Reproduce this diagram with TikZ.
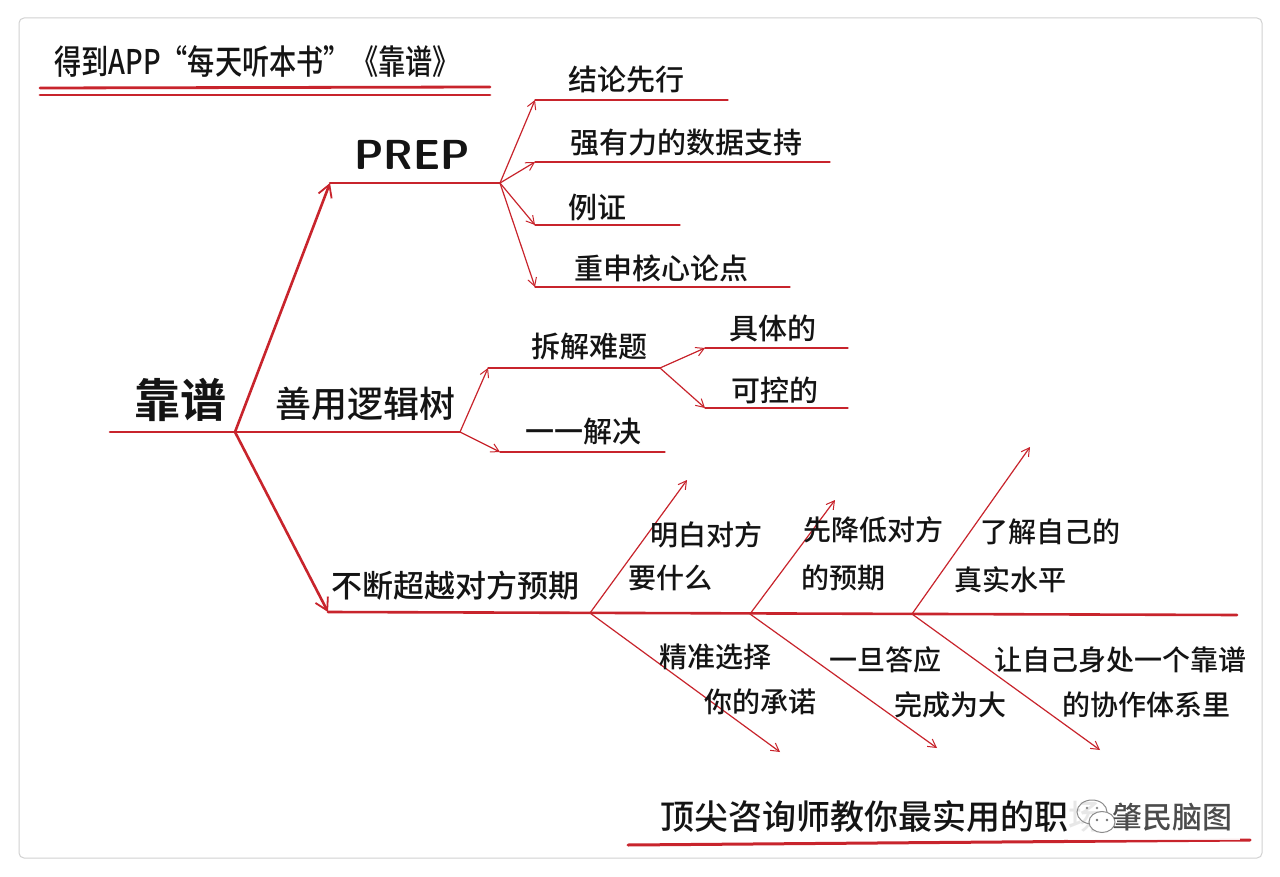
\documentclass[tikz,border=0pt]{standalone}
\usepackage{fontspec}
\newfontfamily\cjk{Noto Sans CJK SC Medium}
\newfontfamily\cjkb{Noto Sans CJK SC Bold}
\usetikzlibrary{arrows.meta}
\definecolor{pen}{HTML}{C8242C}
\definecolor{ink}{HTML}{141414}
\begin{document}
\begin{tikzpicture}[x=1pt,y=-1pt,
  mainline/.style={draw=pen, line width=2.6pt, line cap=round},
  subline/.style={draw=pen, line width=1.2pt, line cap=round},
  bigtip/.style={-{Straight Barb[length=12pt,width=14pt,line width=1.8pt]}},
  smalltip/.style={-{Straight Barb[length=8pt,width=9pt,line width=1pt]}},
  lbl/.style={font=\cjk\fontsize{29}{34}\selectfont, inner sep=0pt, text=ink},
  fish/.style={font=\cjk\fontsize{28}{32}\selectfont, inner sep=0pt, text=ink},
  head/.style={font=\cjk\fontsize{34}{38}\selectfont, inner sep=0pt, text=ink},
]
% page and card
\fill[white] (0,0) rectangle (1280,877);
\draw[draw=black!18, line width=1pt, rounded corners=5pt] (19,18) rectangle (1262,858);

% heading with double underline
\node[head, anchor=west] (title) at (54,62) {\scalebox{0.8}[1]{得到APP“每天听本书”《靠谱》}};
\draw[mainline, line width=2.8pt] (40,88) -- (490,87);
\draw[mainline, line width=2.8pt] (40,95) -- (490,95);

% root
\node[font=\cjkb\fontsize{46}{50}\selectfont, inner sep=0pt, text=ink] (root) at (180,400) {靠谱};
\coordinate (r0) at (110,432);
\coordinate (hub) at (235,432);
\draw[mainline] (r0) -- (hub);

% branch 1: PREP
\coordinate (p0) at (330,183);
\coordinate (p1) at (500,183);
\draw[mainline, bigtip] (hub) -- (p0);
\draw[mainline] (p0) -- (p1);
\node[font=\sffamily\bfseries\fontsize{42}{46}\selectfont, inner sep=0pt, text=ink] (prep) at (412,155) {PREP};

\coordinate (a1) at (535,100);  \coordinate (a1e) at (728,100);
\coordinate (a2) at (535,162);  \coordinate (a2e) at (830,162);
\coordinate (a3) at (535,225);  \coordinate (a3e) at (680,225);
\coordinate (a4) at (535,287);  \coordinate (a4e) at (790,287);
\foreach \k in {a1,a2,a3,a4}{
  \draw[subline, smalltip] (p1) -- (\k);
  \draw[subline] (\k) -- (\k e);
}
\node[lbl] (t1) at (626,80)  {结论先行};
\node[lbl] (t2) at (686,143) {强有力的数据支持};
\node[lbl] (t3) at (597,207) {例证};
\node[lbl] (t4) at (661,268) {重申核心论点};

% branch 2: logic tree
\coordinate (l1) at (460,432);
\draw[mainline] (hub) -- (l1);
\node[font=\cjk\fontsize{36}{40}\selectfont, inner sep=0pt, text=ink] (logic) at (365,404) {善用逻辑树};

\coordinate (b1) at (488,368);  \coordinate (b1e) at (660,368);
\coordinate (b2) at (500,452);  \coordinate (b2e) at (665,452);
\draw[subline, smalltip] (l1) -- (b1);
\draw[subline] (b1) -- (b1e);
\draw[subline, smalltip] (l1) -- (b2);
\draw[subline] (b2) -- (b2e);
\node[lbl] (tb1) at (589,347) {拆解难题};
\node[lbl] (tb2) at (583,432) {一一解决};

\coordinate (d1) at (705,348);  \coordinate (d1e) at (848,348);
\coordinate (d2) at (705,408);  \coordinate (d2e) at (848,408);
\draw[subline, smalltip] (b1e) -- (d1);
\draw[subline] (d1) -- (d1e);
\draw[subline, smalltip] (b1e) -- (d2);
\draw[subline] (d2) -- (d2e);
\node[lbl] (td1) at (773,328) {具体的};
\node[lbl] (td2) at (775,390) {可控的};

% branch 3: fishbone
\coordinate (f0) at (328,612);
\coordinate (fe) at (1237,615);
\draw[mainline, bigtip] (hub) -- (f0);
\draw[mainline] (f0) -- (fe);
\node[lbl, font=\cjk\fontsize{31}{36}\selectfont] (fish) at (455,586) {不断超越对方预期};

\coordinate (s1) at (590,613);
\coordinate (s2) at (750,614);
\coordinate (s3) at (912,614);
\coordinate (u1) at (687,480);
\coordinate (u2) at (835,500);
\coordinate (u3) at (1030,447);
\coordinate (w1) at (780,752);
\coordinate (w2) at (937,748);
\coordinate (w3) at (1100,750);
\draw[subline, smalltip] (s1) -- (u1);
\draw[subline, smalltip] (s2) -- (u2);
\draw[subline, smalltip] (s3) -- (u3);
\draw[subline, smalltip] (s1) -- (w1);
\draw[subline, smalltip] (s2) -- (w2);
\draw[subline, smalltip] (s3) -- (w3);

\node[fish] (f1a) at (706,535) {明白对方};
\node[fish] (f1b) at (670,578) {要什么};
\node[fish] (f2a) at (873,530) {先降低对方};
\node[fish] (f2b) at (843,578) {的预期};
\node[fish] (f3a) at (1050,532) {了解自己的};
\node[fish] (f3b) at (1010,580) {真实水平};
\node[fish] (f4a) at (715,657) {精准选择};
\node[fish] (f4b) at (760,702) {你的承诺};
\node[fish] (f5a) at (885,660) {一旦答应};
\node[fish] (f5b) at (950,705) {完成为大};
\node[fish] (f6a) at (1120,660) {让自己身处一个靠谱};
\node[fish] (f6b) at (1146,705) {的协作体系里};

% footer line
\node[head, anchor=west] (foot) at (660,817) {顶尖咨询师教你最实用的职场};
\coordinate (ul0) at (628,845);
\coordinate (ul1) at (1250,840);
\draw[mainline, line width=3pt] (ul0) -- (ul1);

% watermark
\fill[white, opacity=0.9] (1068,797) rectangle (1240,840);
\begin{scope}[draw=black!45, line width=1pt]
  \draw (1092,812) ellipse (15pt and 12pt);
  \draw[fill=white] (1102,822) ellipse (13pt and 10.5pt);
  \fill[black!55] (1097,820) circle (1.3pt) (1107,820) circle (1.3pt);
  \fill[black!45] (1087,808) circle (1.3pt) (1097,808) circle (1.3pt);
\end{scope}
\node[font=\cjk\fontsize{30}{34}\selectfont, inner sep=0pt, text=black!70] (mark) at (1172,817) {肇民脑图};
\end{tikzpicture}
\end{document}
